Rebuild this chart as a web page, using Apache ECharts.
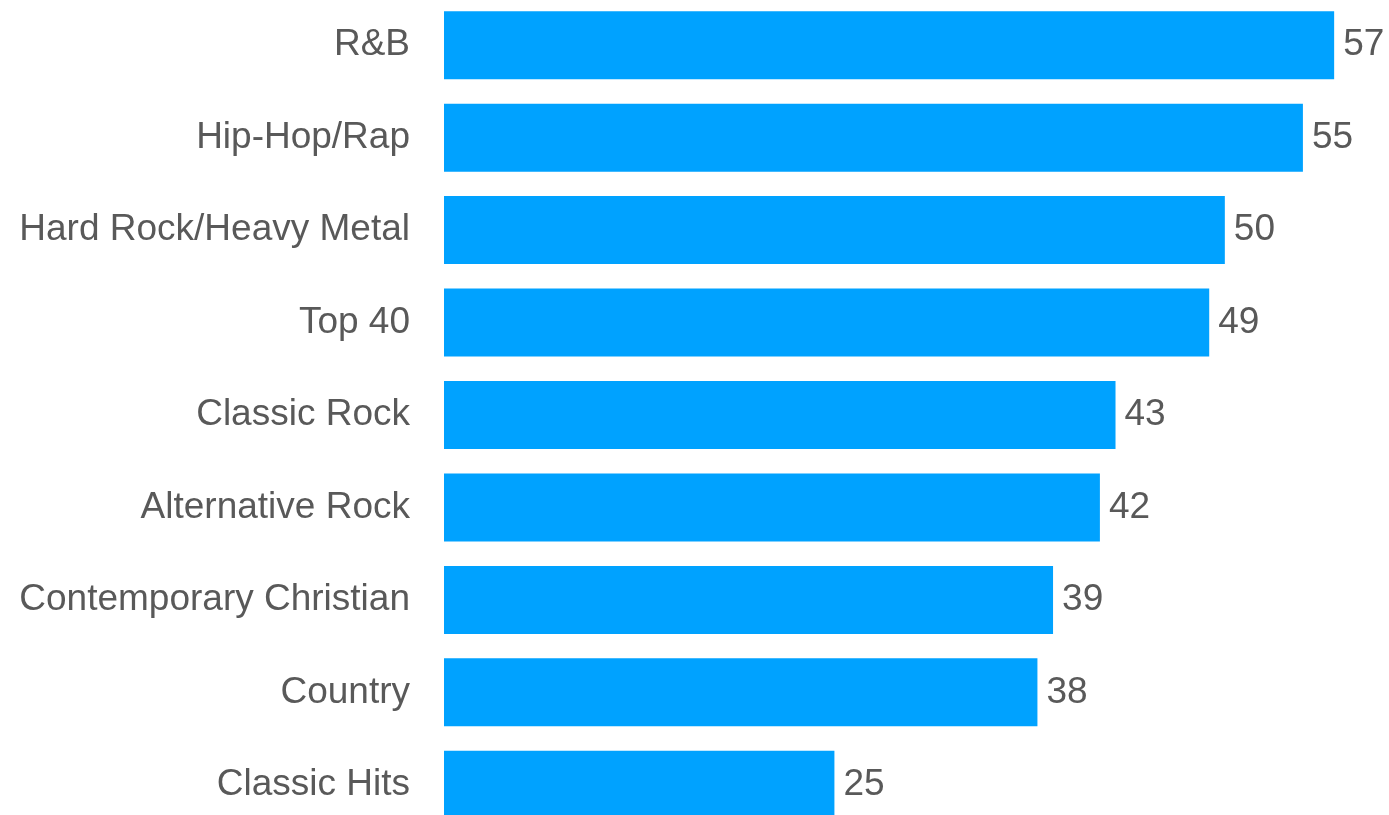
<!DOCTYPE html>
<html>
<head>
<meta charset="utf-8">
<script src="https://cdn.jsdelivr.net/npm/echarts@6/dist/echarts.min.js"></script>
<style>
  html, body { margin: 0; padding: 0; background: #ffffff; }
  #chart { width: 1389px; height: 815px; }
</style>
</head>
<body>
<div id="chart"></div>
<script>
// Music formats, ranked
const categories = [
  'R&B',
  'Hip-Hop/Rap',
  'Hard Rock/Heavy Metal',
  'Top 40',
  'Classic Rock',
  'Alternative Rock',
  'Contemporary Christian',
  'Country',
  'Classic Hits'
];
const values = [57, 55, 50, 49, 43, 42, 39, 38, 25];

const chart = echarts.init(document.getElementById('chart'));
chart.setOption({
  animation: false,
  backgroundColor: '#ffffff',
  grid: {
    left: 444, top: -1, width: 937, height: 832,
    containLabel: false,
    outerBoundsMode: 'none'
  },
  xAxis: {
    type: 'value',
    min: 0,
    max: 60,
    show: false
  },
  yAxis: {
    type: 'category',
    data: categories,
    inverse: true,
    axisLine: { show: false },
    axisTick: { show: false },
    splitLine: { show: false },
    axisLabel: {
      margin: 34,
      color: '#595959',
      fontFamily: '"Liberation Sans", Arial, sans-serif',
      fontSize: 37
    }
  },
  series: [{
    type: 'bar',
    data: values,
    barWidth: 68,
    itemStyle: { color: '#00A2FF' },
    label: {
      show: true,
      position: 'right',
      distance: 9,
      color: '#595959',
      fontFamily: '"Liberation Sans", Arial, sans-serif',
      fontSize: 37
    }
  }]
});
</script>
</body>
</html>
